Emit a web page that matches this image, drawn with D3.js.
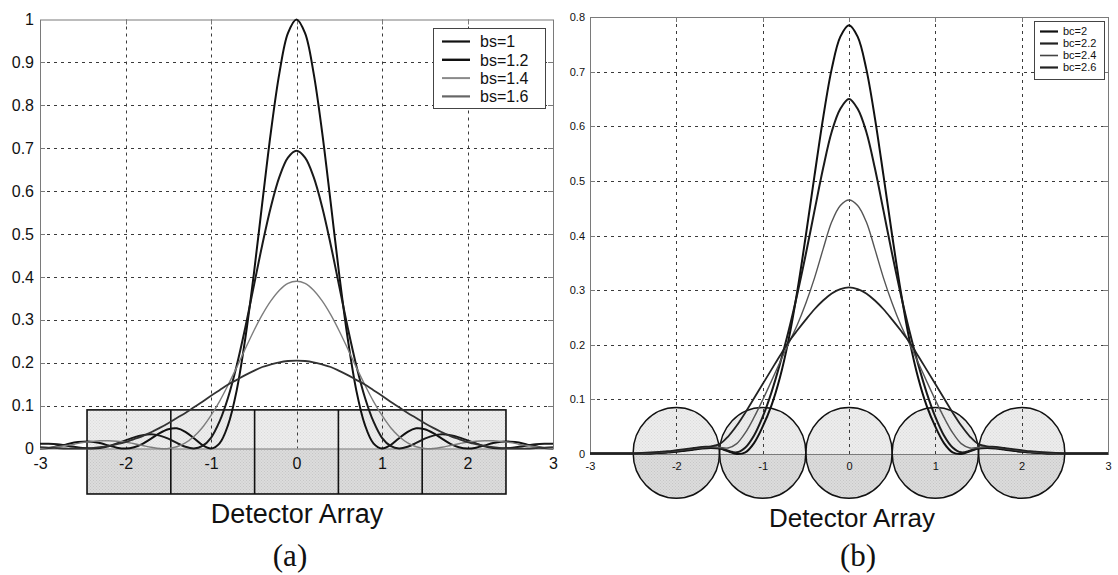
<!DOCTYPE html>
<html><head><meta charset="utf-8">
<script src="https://cdn.jsdelivr.net/npm/d3@7"></script>
<style>
html,body{margin:0;padding:0;background:#fff;}
svg{display:block;}
</style></head><body>
<svg id="fig" width="1118" height="575"></svg>
<script>
// Sample positions along the detector axis
const xs = [-3,-2.9,-2.8,-2.7,-2.6,-2.5,-2.4,-2.3,-2.2,-2.1,
  -2,-1.9,-1.8,-1.7,-1.6,-1.5,-1.4,-1.3,-1.2,-1.1,
  -1,-0.9,-0.8,-0.7,-0.6,-0.5,-0.4,-0.3,-0.2,-0.1,
  0,
  0.1,0.2,0.3,0.4,0.5,0.6,0.7,0.8,0.9,1,
  1.1,1.2,1.3,1.4,1.5,1.6,1.7,1.8,1.9,2,
  2.1,2.2,2.3,2.4,2.5,2.6,2.7,2.8,2.9,3];

// (a) square detectors, spot sizes bs
const bsNames = ["bs=1", "bs=1.2", "bs=1.4", "bs=1.6"];
const bs1 = [0,.001,.005,.009,.014,.016,.016,.013,.007,.002,
  0,.003,.011,.023,.036,.045,.047,.039,.024,.008,
  0,.012,.055,.135,.255,.405,.573,.737,.875,.968,
  1,
  .968,.875,.737,.573,.405,.255,.135,.055,.012,0,
  .008,.024,.039,.047,.045,.036,.023,.011,.003,0,
  .002,.007,.013,.016,.016,.014,.009,.005,.001,0];
const bs12 = [.011,.011,.010,.007,.004,.001,0,.001,.005,.012,
  .019,.026,.031,.033,.030,.023,.013,.004,0,.006,
  .025,.063,.119,.193,.281,.378,.475,.563,.633,.678,
  .694,
  .678,.633,.563,.475,.378,.281,.193,.119,.063,.025,
  .006,0,.004,.013,.023,.030,.033,.031,.026,.019,
  .012,.005,.001,0,.001,.004,.007,.010,.011,.011];
const bs14 = [0,.002,.004,.007,.010,.014,.016,.018,.018,.017,
  .015,.011,.007,.003,0,0,.004,.013,.028,.049,
  .077,.110,.148,.189,.232,.274,.312,.344,.369,.385,
  .390,
  .385,.369,.344,.312,.274,.232,.189,.148,.110,.077,
  .049,.028,.013,.004,0,0,.003,.007,.011,.015,
  .017,.018,.018,.016,.014,.010,.007,.004,.002,0];
const bs16 = [.003,.002,.001,0,0,0,.001,.003,.006,.010,
  .015,.022,.029,.038,.048,.059,.071,.083,.096,.109,
  .123,.136,.149,.160,.171,.181,.190,.196,.201,.204,
  .205,
  .204,.201,.196,.190,.181,.171,.160,.149,.136,.123,
  .109,.096,.083,.071,.059,.048,.038,.029,.022,.015,
  .010,.006,.003,.001,0,0,0,.001,.002,.003];

// (b) circular detectors, spot sizes bc
const bcNames = ["bc=2", "bc=2.2", "bc=2.4", "bc=2.6"];
const bc2 = [.001,.001,.001,.001,.001,.001,.001,.001,.002,.003,
  .004,.006,.008,.010,.011,.010,.005,0,.003,.020,
  .050,.088,.140,.209,.297,.400,.509,.615,.705,.764,
  .785,
  .764,.705,.615,.509,.400,.297,.209,.140,.088,.050,
  .020,.003,0,.005,.010,.011,.010,.008,.006,.004,
  .003,.002,.001,.001,.001,.001,.001,.001,.001,.001];
const bc22 = [.001,.001,.001,.001,.001,.001,.001,.001,.002,.003,
  .005,.007,.009,.011,.012,.011,.006,.003,.012,.034,
  .068,.112,.165,.225,.292,.366,.445,.523,.590,.632,
  .650,
  .632,.590,.523,.445,.366,.292,.225,.165,.112,.068,
  .034,.012,.003,.006,.011,.012,.011,.009,.007,.005,
  .003,.002,.001,.001,.001,.001,.001,.001,.001,.001];
const bc24 = [.001,.001,.001,.001,.001,.001,.001,.002,.003,.004,
  .006,.008,.010,.012,.013,.012,.011,.019,.039,.067,
  .099,.133,.168,.202,.236,.276,.322,.375,.425,.455,
  .465,
  .455,.425,.375,.322,.276,.236,.202,.168,.133,.099,
  .067,.039,.019,.011,.012,.013,.012,.010,.008,.006,
  .004,.003,.002,.001,.001,.001,.001,.001,.001,.001];
const bc26 = [.001,.001,.001,.001,.001,.001,.002,.003,.004,.005,
  .007,.009,.011,.013,.014,.018,.032,.052,.076,.102,
  .128,.154,.180,.205,.226,.246,.265,.281,.294,.302,
  .305,
  .302,.294,.281,.265,.246,.226,.205,.180,.154,.128,
  .102,.076,.052,.032,.018,.014,.013,.011,.009,.007,
  .005,.004,.003,.002,.001,.001,.001,.001,.001,.001];

// Axis ticks
const xTicks = [-3, -2, -1, 0, 1, 2, 3];
const yTicksA = [0, 0.1, 0.2, 0.3, 0.4, 0.5, 0.6, 0.7, 0.8, 0.9, 1];
const yTicksB = [0, 0.1, 0.2, 0.3, 0.4, 0.5, 0.6, 0.7, 0.8];

// Detector elements (in axis units)
const boxEdges = [-2.45, -1.47, -0.49, 0.49, 1.47, 2.45];
const boxTop = 0.09, boxBottom = -0.106;
const circleCenters = [-2, -1, 0, 1, 2];
const circleRx = 0.5, circleRy = 0.083, circleCy = 0.002;

const SANS = "'Liberation Sans', Arial, Helvetica, sans-serif";
const SERIF = "'Liberation Serif', 'Times New Roman', serif";

const svg = d3.select("#fig");
const defs = svg.append("defs");

// light halftone fills for the detector faces
function stipple(id, base, dot) {
  const pt = defs.append("pattern").attr("id", id).attr("patternUnits", "userSpaceOnUse")
    .attr("width", 3).attr("height", 3);
  pt.append("rect").attr("width", 3).attr("height", 3).attr("fill", base);
  pt.append("rect").attr("x", 0).attr("y", 0).attr("width", 1).attr("height", 1).attr("fill", dot);
  pt.append("rect").attr("x", 1.5).attr("y", 1.5).attr("width", 1).attr("height", 1).attr("fill", dot);
}
stipple("faceUp", "#ededed", "#dcdcdc");
stipple("faceDn", "#dcdcdc", "#c6c6c6");

function panel(p) {
  const x = d3.scaleLinear().domain([-3, 3]).range(p.xr);
  const y = d3.scaleLinear().domain([0, p.yMax]).range(p.yr);
  const g = svg.append("g");
  const x0 = p.xr[0], x1 = p.xr[1], yTop = p.yr[1], yBase = p.yr[0];

  // detector elements
  const det = g.append("g");
  if (p.kind === "box") {
    for (let i = 0; i < boxEdges.length - 1; i++) {
      const a = x(boxEdges[i]), b = x(boxEdges[i + 1]);
      det.append("rect").attr("x", a).attr("y", y(boxTop))
        .attr("width", b - a).attr("height", y(0) - y(boxTop)).attr("fill", "url(#faceUp)");
      det.append("rect").attr("x", a).attr("y", y(0))
        .attr("width", b - a).attr("height", y(boxBottom) - y(0)).attr("fill", "url(#faceDn)");
    }
  } else {
    const idA = p.id + "-above", idB = p.id + "-below";
    defs.append("clipPath").attr("id", idA).append("rect")
      .attr("x", 0).attr("y", 0).attr("width", 1118).attr("height", y(0));
    defs.append("clipPath").attr("id", idB).append("rect")
      .attr("x", 0).attr("y", y(0)).attr("width", 1118).attr("height", 575 - y(0));
    det.append("g").selectAll("ellipse").data(circleCenters).join("ellipse")
      .attr("cx", d => x(d)).attr("cy", y(circleCy))
      .attr("rx", x(circleRx) - x(0)).attr("ry", y(0) - y(circleRy))
      .attr("fill", "url(#faceUp)").attr("clip-path", `url(#${idA})`);
    det.append("g").selectAll("ellipse").data(circleCenters).join("ellipse")
      .attr("cx", d => x(d)).attr("cy", y(circleCy))
      .attr("rx", x(circleRx) - x(0)).attr("ry", y(0) - y(circleRy))
      .attr("fill", "url(#faceDn)").attr("clip-path", `url(#${idB})`);
  }

  // dashed grid
  const grid = g.append("g").attr("stroke", "#3a3a3a").attr("stroke-width", 1)
    .attr("stroke-dasharray", "3,4");
  xTicks.slice(1, -1).forEach(t => {
    const px = Math.round(x(t)) + 0.5;
    grid.append("line").attr("x1", px).attr("x2", px).attr("y1", yTop).attr("y2", yBase);
  });
  p.yTicks.slice(1, -1).forEach(t => {
    const py = Math.round(y(t)) + 0.5;
    grid.append("line").attr("x1", x0).attr("x2", x1).attr("y1", py).attr("y2", py);
  });

  // plot frame with inward ticks
  const frame = g.append("g").attr("stroke", "#7a7a7a").attr("stroke-width", 1).attr("fill", "none");
  frame.append("rect").attr("x", x0 + 0.5).attr("y", yTop + 0.5)
    .attr("width", x1 - x0).attr("height", yBase - yTop);
  xTicks.slice(1, -1).forEach(t => {
    const px = Math.round(x(t)) + 0.5;
    frame.append("line").attr("x1", px).attr("x2", px).attr("y1", yTop).attr("y2", yTop + 5);
  });
  p.yTicks.slice(1, -1).forEach(t => {
    const py = Math.round(y(t)) + 0.5;
    frame.append("line").attr("x1", x0).attr("x2", x0 + 5).attr("y1", py).attr("y2", py);
    frame.append("line").attr("x1", x1 - 5).attr("x2", x1).attr("y1", py).attr("y2", py);
  });

  // detector outlines
  if (p.kind === "box") {
    det.append("rect").attr("x", x(boxEdges[0])).attr("y", y(boxTop))
      .attr("width", x(boxEdges[boxEdges.length - 1]) - x(boxEdges[0]))
      .attr("height", y(boxBottom) - y(boxTop))
      .attr("fill", "none").attr("stroke", "#111").attr("stroke-width", 1.6);
    boxEdges.slice(1, -1).forEach(e => {
      g.append("line").attr("x1", x(e)).attr("x2", x(e))
        .attr("y1", y(boxTop)).attr("y2", y(boxBottom))
        .attr("stroke", "#111").attr("stroke-width", 1.6);
    });
  } else {
    g.append("g").selectAll("ellipse").data(circleCenters).join("ellipse")
      .attr("cx", d => x(d)).attr("cy", y(circleCy))
      .attr("rx", x(circleRx) - x(0)).attr("ry", y(0) - y(circleRy))
      .attr("fill", "none").attr("stroke", "#111").attr("stroke-width", 1.5);
  }

  // tick labels
  const ax = g.append("g").attr("transform", `translate(0,${yBase})`)
    .call(d3.axisBottom(x).tickValues(xTicks).tickSize(0).tickPadding(p.xPad)
      .tickFormat(d => String(d)));
  ax.select(".domain").remove();
  ax.selectAll("text").attr("font-family", SANS).attr("font-size", p.tickFont).attr("fill", "#111");
  const ay = g.append("g").attr("transform", `translate(${x0},0)`)
    .call(d3.axisLeft(y).tickValues(p.yTicks).tickSize(0).tickPadding(p.yPad)
      .tickFormat(d => String(d)));
  ay.select(".domain").remove();
  ay.selectAll("text").attr("font-family", SANS).attr("font-size", p.tickFont).attr("fill", "#111");

  // curves
  const line = d3.line().x((d, i) => x(xs[i])).y(d => y(d)).curve(d3.curveCatmullRom.alpha(0.5));
  p.series.forEach((s, k) => {
    g.append("path").datum(s).attr("d", line).attr("fill", "none")
      .attr("stroke", p.colors[k]).attr("stroke-width", p.widths[k])
      .attr("stroke-linejoin", "round");
  });

  // legend
  const L = p.legend;
  const lg = g.append("g");
  lg.append("rect").attr("x", L.x + 0.5).attr("y", L.y + 0.5).attr("width", L.w).attr("height", L.h)
    .attr("fill", "#fff").attr("stroke", "#444").attr("stroke-width", 1);
  p.names.forEach((n, k) => {
    const cy = L.y + L.first + k * L.step;
    lg.append("line").attr("x1", L.x + L.l0).attr("x2", L.x + L.l1).attr("y1", cy).attr("y2", cy)
      .attr("stroke", p.legendColors[k]).attr("stroke-width", p.legendWidths[k]);
    lg.append("text").attr("x", L.x + L.tx).attr("y", cy).attr("dy", "0.36em")
      .attr("font-family", SANS).attr("font-size", L.font).attr("fill", "#111").text(n);
  });

  // captions
  g.append("text").attr("x", p.capX).attr("y", p.capY).attr("text-anchor", "middle")
    .attr("font-family", SANS).attr("font-size", p.capFont).attr("fill", "#111").text("Detector Array");
  g.append("text").attr("x", p.tagX).attr("y", 566).attr("text-anchor", "middle")
    .attr("font-family", SERIF).attr("font-size", 31).attr("fill", "#111").text(p.tag);
}

panel({
  id: "pa", kind: "box", xr: [40, 553], yr: [448.5, 19.5], yMax: 1, yTicks: yTicksA,
  series: [bs1, bs12, bs14, bs16], names: bsNames,
  colors: ["#111", "#1a1a1a", "#7d7d7d", "#333"], widths: [2, 2, 1.4, 1.8],
  legendColors: ["#111", "#111", "#8a8a8a", "#666"], legendWidths: [2.2, 2.4, 2, 2.2],
  tickFont: 16, xPad: 9, yPad: 6,
  legend: {x: 433, y: 28, w: 112, h: 80, first: 13.5, step: 18.3, l0: 9, l1: 37, tx: 47, font: 16},
  capX: 297, capY: 523, capFont: 27, tagX: 290, tag: "(a)"
});

panel({
  id: "pb", kind: "circle", xr: [590, 1108], yr: [454, 17], yMax: 0.8, yTicks: yTicksB,
  series: [bc2, bc22, bc24, bc26], names: bcNames,
  colors: ["#111", "#1a1a1a", "#555", "#222"], widths: [2, 2, 1.4, 1.8],
  legendColors: ["#111", "#222", "#444", "#222"], legendWidths: [2.2, 2.2, 1.6, 2.2],
  tickFont: 11, xPad: 8, yPad: 5,
  legend: {x: 1034, y: 21, w: 70, h: 58, first: 10.5, step: 12, l0: 6, l1: 24, tx: 29, font: 11},
  capX: 852, capY: 527, capFont: 26, tagX: 858, tag: "(b)"
});
</script>
</body></html>
